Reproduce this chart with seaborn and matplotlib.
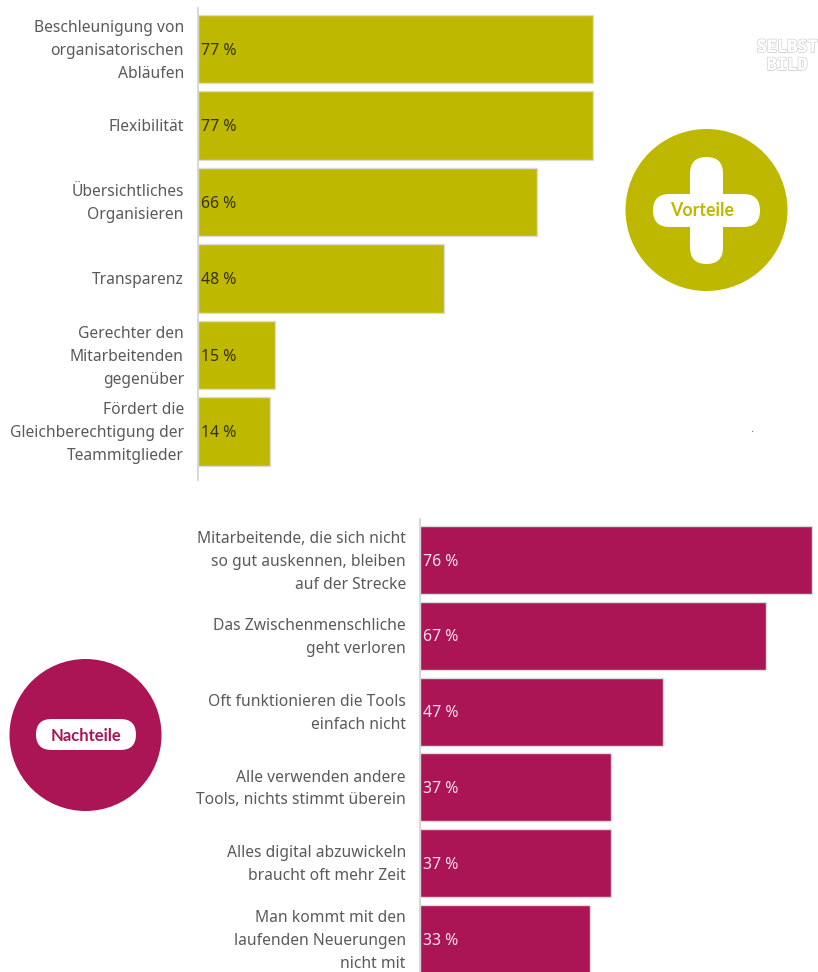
import matplotlib
matplotlib.use("Agg")
import matplotlib.pyplot as plt
import matplotlib.patheffects as pe
from matplotlib.patches import Circle, FancyBboxPatch
from matplotlib.transforms import ScaledTranslation
import seaborn as sns

sns.set_theme(style="white")
plt.rcParams["font.family"] = ["Noto Sans", "DejaVu Sans"]

W, H = 818, 972

vorteile_labels = [
    "Beschleunigung von\norganisatorischen\nAbläufen",
    "Flexibilität",
    "Übersichtliches\nOrganisieren",
    "Transparenz",
    "Gerechter den\nMitarbeitenden\ngegenüber",
    "Fördert die\nGleichberechtigung der\nTeammitglieder",
]
vorteile_values = [77, 77, 66, 48, 15, 14]

nachteile_labels = [
    "Mitarbeitende, die sich nicht\nso gut auskennen, bleiben\nauf der Strecke",
    "Das Zwischenmenschliche\ngeht verloren",
    "Oft funktionieren die Tools\neinfach nicht",
    "Alle verwenden andere\nTools, nichts stimmt überein",
    "Alles digital abzuwickeln\nbraucht oft mehr Zeit",
    "Man kommt mit den\nlaufenden Neuerungen\nnicht mit",
]
nachteile_values = [76, 67, 47, 37, 37, 33]

OLIVE = "#BFB800"
MAGENTA = "#AB1455"
LABEL = "#5A5A58"
BADGE_FONT = ["Lato", "Roboto", "DejaVu Sans"]


def pixel_axes(fig, left, right, top, bottom):
    return fig.add_axes([left / W, 1 - bottom / H, (right - left) / W, (bottom - top) / H])


def bar_panel(ax, labels, values, color, text_color, ylim, xlim, width):
    sns.barplot(x=values, y=labels, color=color, saturation=1, width=width,
                edgecolor="#DDDDD8", linewidth=1.0, ax=ax)
    ax.set_xlim(0, xlim)
    ax.set_ylim(*ylim)
    ax.set_xticks([])
    ax.set_xlabel("")
    ax.set_ylabel("")
    ax.tick_params(axis="y", length=0, pad=10.2)
    nudge = ScaledTranslation(0, -1.6 / 100, ax.figure.dpi_scale_trans)
    for tick in ax.get_yticklabels():
        tick.set_fontsize(11.25)
        tick.set_color(LABEL)
        tick.set_linespacing(1.58)
        tick.set_ha("right")
        tick.set_va("center")
        tick.set_transform(tick.get_transform() + nudge)
    sns.despine(ax=ax, top=True, right=True, bottom=True)
    ax.spines["left"].set_color("#D2D2D2")
    ax.spines["left"].set_linewidth(1.2)
    ax.patch.set_alpha(0)
    for i, v in enumerate(values):
        ax.annotate(f"{v} %", (0, i), xytext=(2.4, -1.2), textcoords="offset points",
                    va="center", ha="left", fontsize=11.4, color=text_color)


fig = plt.figure(figsize=(W / 100, H / 100), dpi=100, facecolor="white")

top_ax = pixel_axes(fig, 198, W, 8, 480)
bar_panel(top_ax, vorteile_labels, vorteile_values, OLIVE, "#33320A",
          (5.634, -0.536), 620 / 5.13, 0.895)

bottom_ax = pixel_axes(fig, 420, W, 519, H)
bar_panel(bottom_ax, nachteile_labels, nachteile_values, MAGENTA, "#F3E3EA",
          (5.435, -0.541), 398 / 5.16, 0.897)

# Badges and small annotations live on a figure-wide overlay in pixel units
overlay = fig.add_axes([0, 0, 1, 1], facecolor="none")
overlay.set_xlim(0, W)
overlay.set_ylim(H, 0)
overlay.axis("off")


def pill(x0, x1, y0, y1):
    h = y1 - y0
    w = x1 - x0
    r = min(w, h) / 2
    overlay.add_patch(FancyBboxPatch((x0 + r, y0 + r), w - 2 * r, h - 2 * r,
                                     boxstyle=f"round,pad={r - 0.01},rounding_size={r}",
                                     fc="white", ec="none"))


overlay.add_patch(Circle((706.5, 210), 81, fc=OLIVE, ec="none"))
pill(653, 760, 194, 227)
pill(690, 723, 157, 264)
overlay.text(702, 210.5, "Vorteile", fontsize=12.8, fontweight="bold", color=OLIVE,
             ha="center", va="center", family=BADGE_FONT)

overlay.add_patch(Circle((85.5, 735), 76, fc=MAGENTA, ec="none"))
pill(36, 136, 719, 750)
overlay.text(85.5, 735.5, "Nachteile", fontsize=12, fontweight="bold", color=MAGENTA,
             ha="center", va="center", family=BADGE_FONT)

# Faint outlined credit in the upper right corner
for y, word in ((47, "SELBST"), (65, "BILD")):
    overlay.text(787, y, word, fontsize=12.2, fontweight="bold", color="white",
                 ha="center", va="center", family="DejaVu Sans Mono",
                 path_effects=[pe.withStroke(linewidth=1.2, foreground="#CFCFCF"),
                               pe.Normal()])

overlay.plot([752], [431], marker="s", ms=0.8, mew=0, color="#777777", ls="none")

fig.savefig("out.png", dpi=100, facecolor="white")
